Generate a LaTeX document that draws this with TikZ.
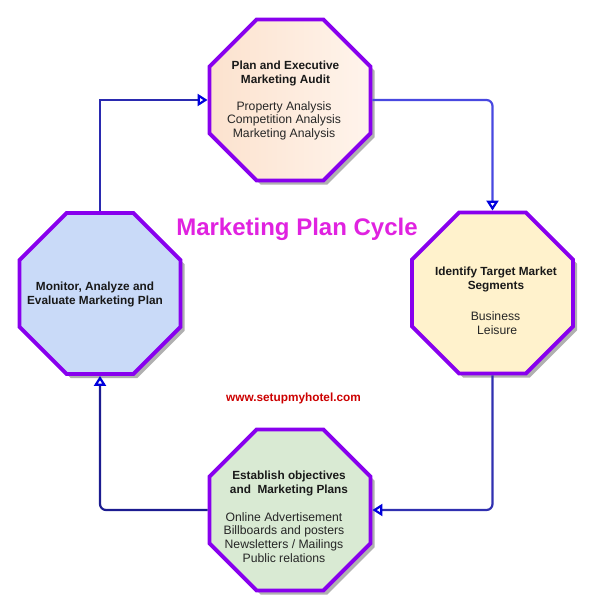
\documentclass[tikz,border=0pt]{standalone}
\usepackage{fontspec}
\setmainfont{Liberation Sans}
\usetikzlibrary{shapes.geometric,arrows.meta,shadows}
\definecolor{octborder}{HTML}{8800EE}
\definecolor{fillR}{HTML}{FFF2CC}
\definecolor{fillL}{HTML}{C9DAF8}
\definecolor{fillB}{HTML}{D9EAD3}
\definecolor{fillTa}{HTML}{FCE2CE}
\definecolor{fillTb}{HTML}{FFF4EC}
\definecolor{titlecol}{HTML}{E022E0}
\definecolor{webcol}{HTML}{CC0000}
\definecolor{connA}{HTML}{2A2AB0}
\definecolor{connB}{HTML}{4848E0}
\definecolor{connC}{HTML}{3030B0}
\definecolor{connD}{HTML}{1C1C90}
\definecolor{tipcol}{HTML}{0000DD}
\definecolor{shadowcol}{HTML}{B0B0B0}
\begin{document}
\begin{tikzpicture}[x=1pt,y=-1pt,
  oct/.style={regular polygon, regular polygon sides=8, minimum size=174.3pt,
    inner sep=0pt, draw=octborder, line width=3.8pt,
    drop shadow={shadow xshift=4pt, shadow yshift=-4pt, fill=shadowcol, opacity=1}},
  headtxt/.style={align=center, font=\fontsize{11.8}{14}\selectfont\bfseries, text=black!90, inner sep=0pt},
  bodytxt/.style={align=center, font=\fontsize{12.2}{13.8}\selectfont, text=black!85, inner sep=0pt},
  conn/.style={line width=2.2pt, rounded corners=6pt,
    -{Triangle[open, length=10pt, width=12pt, line width=2.2pt, color=tipcol]}}
]
\useasboundingbox (0,0) rectangle (592,600);

\node[oct, left color=fillTa, right color=fillTb] (top) at (290,100) {};
\node[oct, fill=fillR] (right) at (492.5,293) {};
\node[oct, fill=fillL] (left) at (100,293.5) {};
\node[oct, fill=fillB] (bottom) at (290,510) {};

\node[headtxt] (topH) at (285.5,73.7) {Plan and Executive\\Marketing Audit};
\node[bodytxt] (topB) at (284,120.8) {Property Analysis\\Competition Analysis\\Marketing Analysis};

\node[headtxt] (rightH) at (496,279.7) {Identify Target Market\\Segments};
\node[bodytxt] (rightB) at (495.5,323.4) {Business\\\ Leisure};

\node[headtxt] (leftH) at (95,294) {Monitor, Analyze and\\Evaluate Marketing Plan};

\node[headtxt] (bottomH) at (289,483.8) {Establish objectives\\and\ \ Marketing Plans};
\node[bodytxt] (bottomB) at (284,537.5) {Online Advertisement\\Billboards and posters\\Newsletters / Mailings\\Public relations};

\node[anchor=base, inner sep=0pt, text=titlecol, font=\fontsize{24}{28}\selectfont\bfseries] (title) at (297,235) {Marketing Plan Cycle};
\node[anchor=base, inner sep=0pt, text=webcol, font=\fontsize{11.8}{14}\selectfont\bfseries] (web) at (293.5,401) {www.setupmyhotel.com};

\draw[conn, draw=connA, rounded corners=0pt] (left.north) |- (top.west);
\draw[conn, draw=connB] (top.east) -| (right.north);
\draw[conn, draw=connC] (right.south) |- (bottom.east);
\draw[conn, draw=connD] (bottom.west) -| (left.south);
\end{tikzpicture}
\end{document}
